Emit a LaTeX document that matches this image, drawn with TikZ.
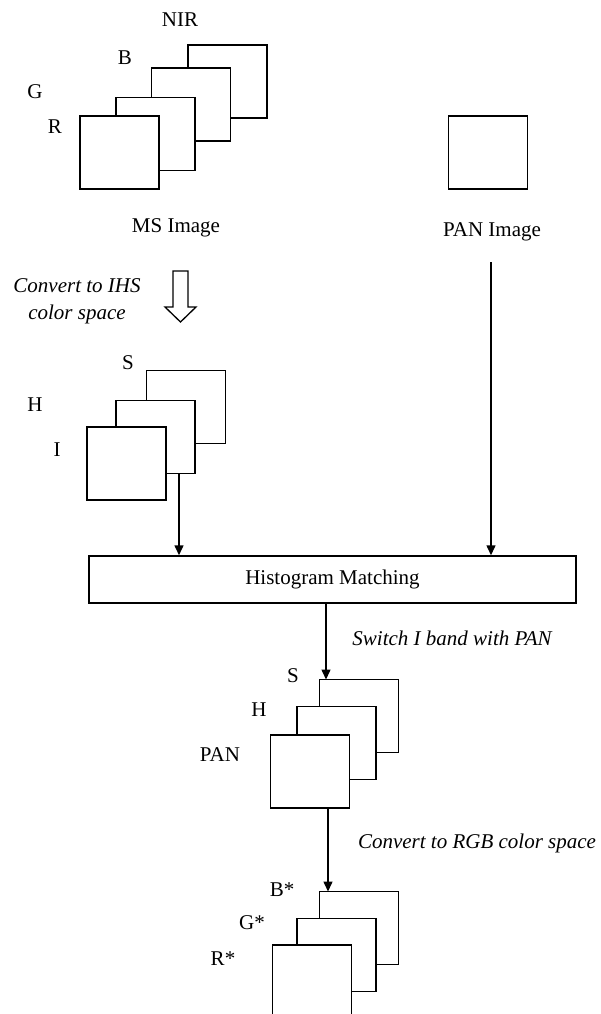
\documentclass[tikz,border=0pt]{standalone}
\usepackage{fontspec}
\setmainfont{Liberation Serif}
\usetikzlibrary{arrows.meta,calc}
\begin{document}
\begin{tikzpicture}[x=1pt,y=-1pt,
  band/.style={draw, fill=white, line width=1.5pt, minimum width=79pt,
               minimum height=73pt, inner sep=0pt, outer sep=0pt},
  lbl/.style={font=\fontsize{21}{25}\selectfont, inner sep=0pt},
  note/.style={font=\fontsize{21}{27}\selectfont\itshape, inner sep=0pt, align=center},
  flow/.style={line width=1.5pt, -{Triangle[width=9pt,length=10pt]}},
]
\clip (0,0) rectangle (600,1014);
\fill[white] (0,0) rectangle (600,1014);

% multispectral input bands (back to front)
\node[band] (nir) at (227.5,81.5) {};
\node[band] (bb)  at (191,104.5) {};
\node[band] (gg)  at (155.5,134) {};
\node[band] (rr)  at (119.5,152.5) {};
\node[lbl] (tnir) at (180,20) {NIR};
\node[lbl] (tb)   at (125,58) {B};
\node[lbl] (tg)   at (35,92) {G};
\node[lbl] (tr)   at (55,127) {R};
\node[lbl] (ms)   at (176,228) {MS Image};

% panchromatic input
\node[band] (pan) at (488,152.5) {};
\node[lbl] (panlbl) at (492,232) {PAN Image};

% IHS conversion
\node[note] (ihsnote) at (77,301) {Convert to IHS\\color space};
\draw[line width=1.3pt, fill=white]
  (173,271) -- (188,271) -- (188,307) -- (196,307) -- (180.5,322)
  -- (165,307) -- (173,307) -- cycle;

% IHS bands
\node[band] (s1) at (186,407) {};
\node[band] (h1) at (155.5,437) {};
\node[band] (i1) at (126.5,463.5) {};
\node[lbl] (ts1) at (128,363) {S};
\node[lbl] (th1) at (35,405) {H};
\node[lbl] (ti1) at (57,450) {I};

% histogram matching
\node[draw, line width=1.5pt, minimum width=487pt, minimum height=47pt,
      inner sep=0pt, lbl] (hist) at (332.5,579.5) {Histogram Matching};

\coordinate (ihsout) at ($(h1.south)+(23.5,0)$);
\draw[flow] (ihsout) -- (ihsout |- hist.north);
\coordinate (panout) at (491,262);
\draw[flow] (panout) -- (panout |- hist.north);

% fused bands
\node[band] (s2) at (359,716) {};
\node[band] (h2) at (336.5,743) {};
\node[band] (p2) at (310,771.5) {};
\node[lbl] (ts2) at (293,676) {S};
\node[lbl] (th2) at (259,710) {H};
\node[lbl] (tp2) at (220,755) {PAN};

\coordinate (histout) at ($(hist.south)+(-6.5,0)$);
\draw[flow] (histout) -- (histout |- s2.north);
\node[note] (swnote) at (452,638) {Switch I band with PAN};

% RGB output bands
\node[band] (bs) at (359,928) {};
\node[band] (gs) at (336.5,955) {};
\node[band] (rs) at (312,981.5) {};
\node[lbl] (tbs) at (282,890) {B*};
\node[lbl] (tgs) at (252,923) {G*};
\node[lbl] (trs) at (223,959) {R*};

\coordinate (fusedout) at ($(p2.south)+(18,0)$);
\draw[flow] (fusedout) -- (fusedout |- bs.north);
\node[note] (rgbnote) at (477,843) {Convert to RGB color space};
\end{tikzpicture}
\end{document}
